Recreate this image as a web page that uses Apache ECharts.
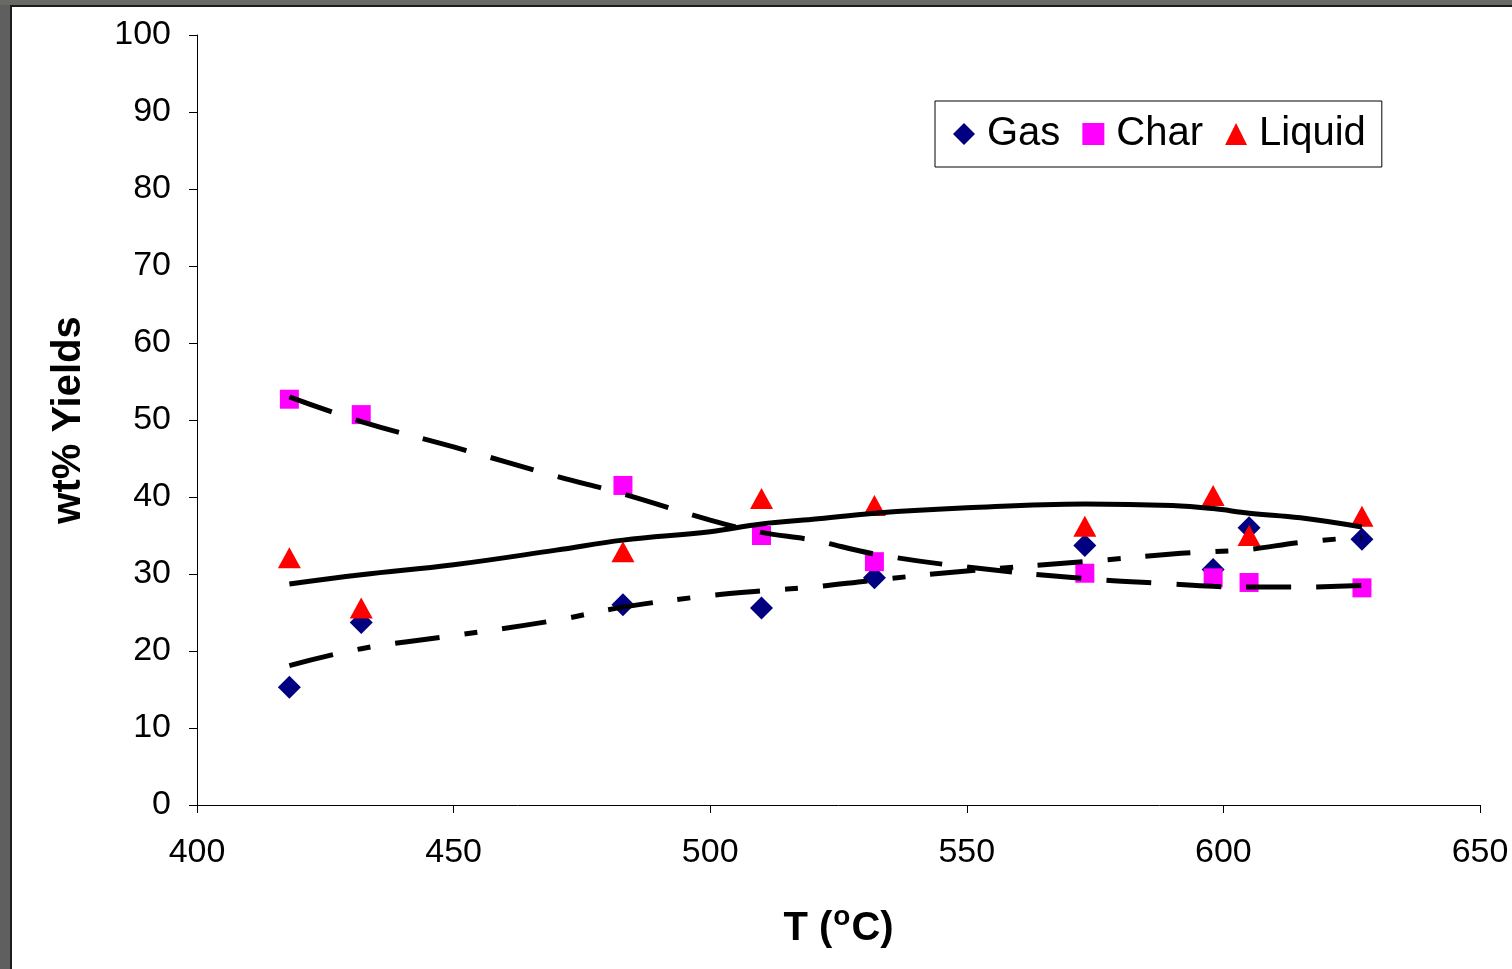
<!DOCTYPE html>
<html>
<head>
<meta charset="utf-8">
<title>Pyrolysis product yields vs temperature</title>
<script src="https://cdn.jsdelivr.net/npm/echarts@6/dist/echarts.min.js"></script>
<style>
  html, body { margin: 0; padding: 0; background: #ffffff; }
  #chart { width: 1512px; height: 969px; }
</style>
</head>
<body>
<div id="chart"></div>
<script>
// Measured yields (wt%) at each reactor temperature (°C)
const temperatures = [418, 432, 483, 510, 532, 573, 598, 605, 627];
const gasYield    = [15.3, 23.7, 26.0, 25.6, 29.5, 33.7, 30.6, 36.0, 34.5];
const charYield   = [52.7, 50.7, 41.5, 35.0, 31.6, 30.1, 29.5, 28.9, 28.2];
const liquidYield = [32.1, 25.6, 32.9, 39.8, 38.9, 36.2, 40.2, 35.0, 37.5];

// Fitted trend curves, sampled along the temperature range
const trendT      = [418, 432, 450, 470, 483, 500, 510, 520, 532, 550, 573, 590, 598, 605, 615, 627];
const gasTrend    = [18.1, 20.3, 22.0, 24.0, 25.7, 27.2, 27.8, 28.3, 29.2, 30.4, 31.6, 32.6, 32.9, 33.2, 34.1, 34.8];
const charTrend   = [53.0, 49.8, 46.5, 42.7, 40.4, 37.0, 35.4, 34.4, 32.6, 30.9, 29.4, 28.7, 28.4, 28.3, 28.3, 28.5];
const liquidTrend = [28.7, 29.9, 31.2, 33.1, 34.4, 35.5, 36.5, 37.1, 37.9, 38.6, 39.1, 38.9, 38.5, 37.9, 37.3, 36.1];

// Axis tick settings
const xTicks = { min: 400, max: 650, step: 50 };
const yTicks = { min: 0, max: 100, step: 10 };

const pair = (xs, ys) => xs.map((x, i) => [x, ys[i]]);

const FONT = "'Liberation Sans', Arial, Helvetica, sans-serif";

const chart = echarts.init(document.getElementById('chart'), null, { renderer: 'canvas' });

const trendLine = (name, ys, dash) => ({
  name: name,
  type: 'line',
  data: pair(trendT, ys),
  smooth: 0.4,
  showSymbol: false,
  symbol: 'none',
  z: 5,
  silent: true,
  lineStyle: { color: '#000000', width: 5, type: dash, cap: 'butt', opacity: 1 }
});

chart.setOption({
  animation: false,
  backgroundColor: '#ffffff',
  textStyle: { fontFamily: FONT },
  grid: { left: 197, top: 35, right: 32, bottom: 164, containLabel: false },
  graphic: [
    // outer frame: grey band on left and top edges with a dark inner rule
    { type: 'rect', z: 100, shape: { x: 0, y: 0, width: 10, height: 969 }, style: { fill: '#5f5f5f' } },
    { type: 'rect', z: 100, shape: { x: 0, y: 0, width: 1512, height: 5 }, style: { fill: '#6a6a64' } },
    { type: 'rect', z: 101, shape: { x: 10, y: 5, width: 2, height: 964 }, style: { fill: '#1c1c1c' } },
    { type: 'rect', z: 101, shape: { x: 10, y: 5, width: 1502, height: 2 }, style: { fill: '#1c1c1c' } }
  ],
  legend: {
    left: 935,
    top: 101,
    orient: 'horizontal',
    backgroundColor: '#ffffff',
    borderColor: '#000000',
    borderWidth: 1,
    padding: [13, 16, 13, 18],
    itemGap: 22,
    itemWidth: 22,
    itemHeight: 22,
    textStyle: { fontSize: 40, color: '#000000', fontFamily: FONT, padding: [0, 0, 0, 7] },
    data: [
      { name: 'Gas', icon: 'diamond', itemStyle: { color: '#000080', opacity: 1 } },
      { name: 'Char', icon: 'rect', itemStyle: { color: '#ff00ff', opacity: 1 } },
      { name: 'Liquid', icon: 'triangle', itemStyle: { color: '#ff0000', opacity: 1 } }
    ]
  },
  xAxis: {
    type: 'value',
    min: xTicks.min,
    max: xTicks.max,
    interval: xTicks.step,
    name: '{a|T (}{s|o}{a|C)}',
    nameLocation: 'middle',
    nameGap: 98,
    nameTextStyle: {
      rich: {
        a: { fontSize: 40, fontWeight: 'bold', color: '#000', fontFamily: FONT },
        s: { fontSize: 28, fontWeight: 'bold', color: '#000', fontFamily: FONT, padding: [0, 1, 24, 1] }
      }
    },
    axisLine: { lineStyle: { color: '#000000', width: 1 } },
    axisTick: { show: true, length: 8, lineStyle: { color: '#000000' } },
    axisLabel: { fontSize: 34, color: '#000000', margin: 31, fontFamily: FONT },
    splitLine: { show: false }
  },
  yAxis: {
    type: 'value',
    min: yTicks.min,
    max: yTicks.max,
    interval: yTicks.step,
    name: 'wt% Yields',
    nameLocation: 'middle',
    nameGap: 108,
    nameTextStyle: { fontSize: 40, fontWeight: 'bold', color: '#000', fontFamily: FONT },
    axisLine: { show: true, lineStyle: { color: '#000000', width: 1 } },
    axisTick: { show: true, length: 8, lineStyle: { color: '#000000' } },
    axisLabel: { fontSize: 34, color: '#000000', margin: 26, fontFamily: FONT },
    splitLine: { show: false }
  },
  series: [
    {
      name: 'Gas', type: 'scatter', data: pair(temperatures, gasYield),
      symbol: 'diamond', symbolSize: [23, 23], z: 3,
      itemStyle: { color: '#000080', opacity: 1 }
    },
    {
      name: 'Char', type: 'scatter', data: pair(temperatures, charYield),
      symbol: 'rect', symbolSize: [19, 19], z: 3,
      itemStyle: { color: '#ff00ff', opacity: 1 }
    },
    {
      name: 'Liquid', type: 'scatter', data: pair(temperatures, liquidYield),
      symbol: 'triangle', symbolSize: [23, 21], z: 3,
      itemStyle: { color: '#ff0000', opacity: 1 }
    },
    trendLine('Gas fit', gasTrend, [45, 25, 13, 25]),
    trendLine('Char fit', charTrend, [45, 25]),
    trendLine('Liquid fit', liquidTrend, 'solid')
  ]
});
</script>
</body>
</html>
